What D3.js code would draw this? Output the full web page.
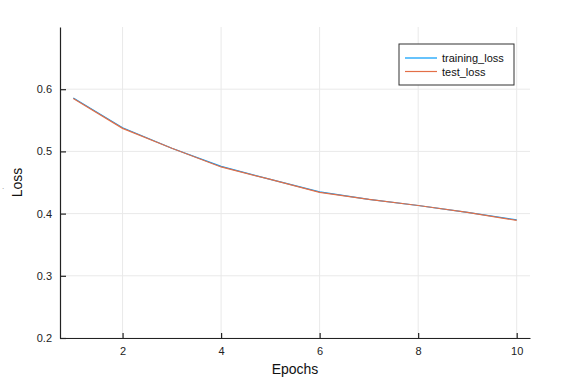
<!DOCTYPE html>
<html>
<head>
<meta charset="utf-8">
<script src="https://cdn.jsdelivr.net/npm/d3@7"></script>
<style>
  body { margin: 0; background: #fff; }
  text { font-family: "Liberation Sans", Arial, sans-serif; }
</style>
</head>
<body>
<svg id="chart"></svg>
<script>
const epochs = [1, 2, 3, 4, 5, 6, 7, 8, 9, 10];
const trainingLoss = [0.586, 0.538, 0.505, 0.476, 0.455, 0.435, 0.423, 0.413, 0.402, 0.390];
const testLoss = [0.585, 0.537, 0.505, 0.475, 0.455, 0.434, 0.423, 0.413, 0.402, 0.389];
const xTicks = [2, 4, 6, 8, 10];
const yTicks = [0.2, 0.3, 0.4, 0.5, 0.6];
const seriesNames = ["training_loss", "test_loss"];
const seriesColors = ["#009afa", "#e36f47"];

const width = 579;
const height = 388;
const margin = { top: 27, right: 49, bottom: 50, left: 60 };

const svg = d3.select("#chart").attr("width", width).attr("height", height);

const x = d3.scaleLinear().domain([0.73, 10.27]).range([margin.left, width - margin.right]);
const y = d3.scaleLinear().domain([0.2, 0.7]).range([height - margin.bottom, margin.top]);

// grid
const grid = svg.append("g");
grid.selectAll(".gx").data(xTicks).join("line")
  .attr("x1", (d) => x(d)).attr("x2", (d) => x(d))
  .attr("y1", y.range()[1]).attr("y2", y.range()[0])
  .attr("stroke", "#e9e9e9").attr("stroke-width", 1);
grid.selectAll(".gy").data(yTicks).join("line")
  .attr("x1", x.range()[0]).attr("x2", x.range()[1])
  .attr("y1", (d) => y(d)).attr("y2", (d) => y(d))
  .attr("stroke", "#e9e9e9").attr("stroke-width", 1);

// axes
const xAxis = svg.append("g")
  .attr("transform", `translate(0,${height - margin.bottom})`)
  .call(d3.axisBottom(x).tickValues(xTicks).tickSizeInner(-5).tickSizeOuter(0).tickPadding(9).tickFormat(d3.format("d")));
const yAxis = svg.append("g")
  .attr("transform", `translate(${margin.left},0)`)
  .call(d3.axisLeft(y).tickValues(yTicks).tickSizeInner(-6).tickSizeOuter(0).tickPadding(8).tickFormat(d3.format(".1f")));

[xAxis, yAxis].forEach((a) => {
  a.select(".domain").attr("stroke", "#222").attr("stroke-width", 1.2);
  a.selectAll(".tick line").attr("stroke", "#222").attr("stroke-width", 1.2);
  a.selectAll(".tick text").attr("fill", "#222").style("font-size", "11px");
});

// lines
const line = d3.line().x((d, i) => x(epochs[i])).y((d) => y(d));
[trainingLoss, testLoss].forEach((s, i) => {
  svg.append("path")
    .attr("d", line(s))
    .attr("fill", "none")
    .attr("stroke", seriesColors[i])
    .attr("stroke-width", 1.2);
});

// axis labels
svg.append("text")
  .attr("x", (x.range()[0] + x.range()[1]) / 2)
  .attr("y", 374)
  .attr("text-anchor", "middle")
  .style("font-size", "14px")
  .attr("fill", "#111")
  .text("Epochs");
svg.append("text")
  .attr("transform", `translate(22,${(y.range()[0] + y.range()[1]) / 2}) rotate(-90)`)
  .attr("text-anchor", "middle")
  .style("font-size", "14px")
  .attr("fill", "#111")
  .text("Loss");
svg.append("text")
  .attr("x", 2).attr("y", 189)
  .style("font-size", "8px")
  .attr("fill", "#888")
  .text(".");

// legend
const legend = svg.append("g").attr("transform", "translate(399,44)");
legend.append("rect")
  .attr("width", 115).attr("height", 41)
  .attr("fill", "#fff").attr("stroke", "#333").attr("stroke-width", 1);
seriesNames.forEach((name, i) => {
  const row = legend.append("g").attr("transform", `translate(0,${14 + i * 13.5})`);
  row.append("line").attr("x1", 6).attr("x2", 38)
    .attr("stroke", seriesColors[i]).attr("stroke-width", 1.2);
  row.append("text").attr("x", 43).attr("y", 4)
    .style("font-size", "11px").attr("fill", "#111")
    .text(name);
});
</script>
</body>
</html>
